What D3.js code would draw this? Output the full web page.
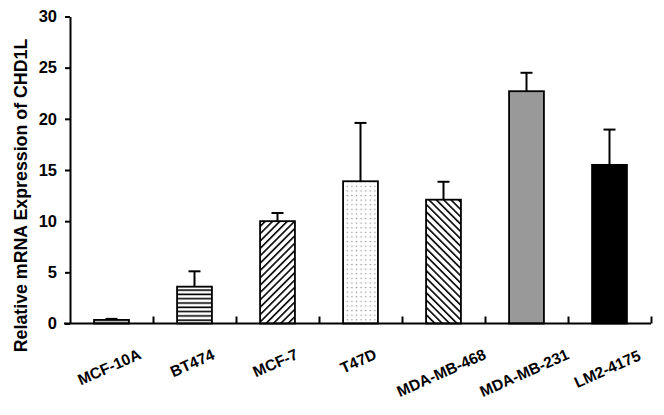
<!DOCTYPE html>
<!-- CHD1L expression bar chart, labels on an overlay layer -->
<html>
<head>
<meta charset="utf-8">
<title>CHD1L expression</title>
<script src="https://cdn.jsdelivr.net/npm/d3@7"></script>
<style>
  body { margin: 0; background: #fff; }
  #chart9 { position: relative; width: 664px; height: 415px; }
  #chart9 svg { position: absolute; left: 0; top: 0; }
  .bold-text { font-family: "Liberation Sans", Arial, sans-serif; font-weight: bold; fill: #000; }
</style>
</head>
<body>
<div id="chart9"></div>
<script>
// values
var cellLines = ['MCF-10A', 'BT474', 'MCF-7', 'T47D', 'MDA-MB-468', 'MDA-MB-231', 'LM2-4175']
var meanExpr = [0.35, 3.6, 10.0, 13.9, 12.1, 22.7, 15.5]
var errExpr = [0.1, 1.5, 0.8, 5.7, 1.75, 1.8, 3.45]
var yTicks = [0, 5, 10, 15, 20, 25, 30]
var fills = ['#b8b8b8', 'url(#hlines)', 'url(#fwd)', 'url(#dots)', 'url(#back)', '#999999', '#000000']

var width = 664, height = 415
var x0 = 70, x1 = 651, yTop = 16.5, yBase = 323.5
var labelAngle = 24, labFont = 15.5

var svg = d3.select('#chart9')
  .append('svg')
  .attr('width', width)
  .attr('height', height)

// fill patterns
var defs = svg.append('defs')
var p = defs.append('pattern').attr('id', 'hlines').attr('patternUnits', 'userSpaceOnUse')
  .attr('width', 8).attr('height', 4.3)
p.append('rect').attr('width', 8).attr('height', 4.3).attr('fill', '#fff')
p.append('line').attr('x1', 0).attr('x2', 8).attr('y1', 2).attr('y2', 2)
  .attr('stroke', '#000').attr('stroke-width', 1.6)

p = defs.append('pattern').attr('id', 'fwd').attr('patternUnits', 'userSpaceOnUse')
  .attr('width', 5.2).attr('height', 5.2).attr('patternTransform', 'rotate(45)')
p.append('rect').attr('width', 5.2).attr('height', 5.2).attr('fill', '#fff')
p.append('line').attr('x1', 0).attr('x2', 0).attr('y1', 0).attr('y2', 5.2)
  .attr('stroke', '#000').attr('stroke-width', 3.2)

p = defs.append('pattern').attr('id', 'back').attr('patternUnits', 'userSpaceOnUse')
  .attr('width', 5.2).attr('height', 5.2).attr('patternTransform', 'rotate(-45)')
p.append('rect').attr('width', 5.2).attr('height', 5.2).attr('fill', '#fff')
p.append('line').attr('x1', 0).attr('x2', 0).attr('y1', 0).attr('y2', 5.2)
  .attr('stroke', '#000').attr('stroke-width', 3.2)

p = defs.append('pattern').attr('id', 'dots').attr('patternUnits', 'userSpaceOnUse')
  .attr('width', 4.6).attr('height', 4.6)
p.append('rect').attr('width', 4.6).attr('height', 4.6).attr('fill', '#fff')
p.append('circle').attr('cx', 2.3).attr('cy', 2.3).attr('r', 0.8).attr('fill', '#9a9a9a')

// scales
var yScale = d3.scaleLinear().domain([0, 30]).range([yBase, yTop])
var xScale = d3.scaleBand().domain(cellLines).range([x0, x1])
  .paddingInner(0.58).paddingOuter(0.29)
var edgeScale = d3.scaleLinear().domain([0, cellLines.length]).range([x0, x1])

var datapoints = cellLines.map(function(d, i) {
  return { name: d, mean: meanExpr[i], err: errExpr[i], fill: fills[i] }
})

function mid(d) { return xScale(d.name) + xScale.bandwidth() / 2 }

// error bars, upper half only
var eb = svg.append('g').attr('stroke', '#000').attr('stroke-width', 2)
eb.selectAll('.stem').data(datapoints).enter().append('line')
  .attr('x1', mid)
  .attr('x2', mid)
  .attr('y1', function(d) { return yScale(d.mean) })
  .attr('y2', function(d) { return yScale(d.mean + d.err) })
eb.selectAll('.cap').data(datapoints).enter().append('line')
  .attr('x1', function(d) { return mid(d) - 6 })
  .attr('x2', function(d) { return mid(d) + 6 })
  .attr('y1', function(d) { return yScale(d.mean + d.err) })
  .attr('y2', function(d) { return yScale(d.mean + d.err) })

// bars
svg.selectAll('.bar').data(datapoints).enter().append('rect')
  .attr('class', 'bar')
  .attr('x', function(d) { return xScale(d.name) })
  .attr('y', function(d) { return yScale(d.mean) })
  .attr('width', xScale.bandwidth())
  .attr('height', function(d) { return yBase - yScale(d.mean) })
  .attr('fill', function(d) { return d.fill })
  .attr('stroke', '#000')
  .attr('stroke-width', 1.8)

// y axis
var yAxis = d3.axisLeft(yScale).tickValues(yTicks).tickSize(5).tickPadding(8).tickSizeOuter(0)
var ya = svg.append('g')
  .attr('class', 'axis y-axis')
  .attr('transform', 'translate(' + x0 + ',0)')
  .attr('font-family', 'DejaVu Sans')
  .attr('font-weight', 'bold')
  .call(yAxis)
ya.selectAll('path, line').attr('stroke', '#000').attr('stroke-width', 2)
ya.selectAll('text').attr('font-size', 16.5).attr('fill', '#000')

// x axis: baseline, short ticks between the groups pointing up
var xAxis = d3.axisBottom(edgeScale).tickValues(d3.range(1, cellLines.length + 1))
  .tickSize(-7).tickSizeOuter(0).tickFormat('')
var xa = svg.append('g')
  .attr('class', 'axis x-axis')
  .attr('transform', 'translate(0,' + yBase + ')')
  .call(xAxis)
xa.select('.domain').attr('d', 'M' + (x0 - 6) + ',0H' + x1)
xa.selectAll('path, line').attr('stroke', '#000').attr('stroke-width', 2)

// y axis title
svg.append('text')
  .attr('class', 'bold-text')
  .attr('transform', 'translate(21,195.5) rotate(-90)')
  .attr('text-anchor', 'middle')
  .attr('dy', '0.35em')
  .attr('font-size', 17.8)
  .text('Relative mRNA Expression of CHD1L')

// slanted category labels on their own layer, centred under each bar
var labelSvg = d3.select('#chart9')
  .append('svg')
  .attr('width', width)
  .attr('height', height)

var ang = labelAngle * Math.PI / 180
labelSvg.selectAll('.lab').data(datapoints).enter().append('text')
  .attr('class', 'lab bold-text')
  .attr('font-size', labFont)
  .attr('text-anchor', 'middle')
  .attr('transform', function(d) {
    var w = d.name.length * labFont * 0.62
    var boxH = w * Math.sin(ang) + labFont * 0.72 * Math.cos(ang)
    var cy = yBase + 24 + boxH / 2 + labFont * 0.36
    return 'translate(' + mid(d) + ',' + cy + ') rotate(' + (-labelAngle) + ')'
  })
  .text(function(d) { return d.name })
</script>
</body>
</html>
